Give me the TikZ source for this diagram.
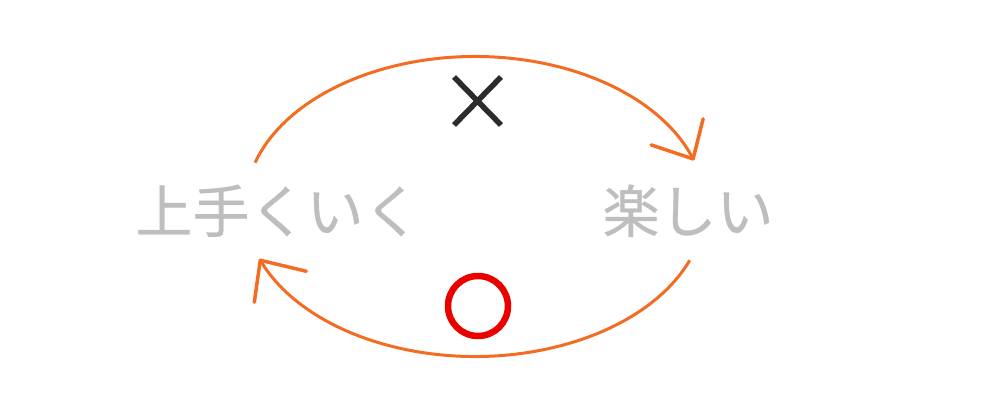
\documentclass[tikz,border=0pt]{standalone}
\usepackage{fontspec}
\newfontfamily\cjk[FakeBold=0.5]{Noto Sans CJK JP}
\definecolor{arcorange}{RGB}{243,108,33}
\definecolor{txtgray}{RGB}{190,190,190}
\definecolor{markdark}{RGB}{43,43,43}
\definecolor{markred}{RGB}{235,0,0}
\begin{document}
\begin{tikzpicture}[x=1pt,y=1pt,
  arcline/.style={draw=arcorange,line width=3pt},
  barb/.style={draw=arcorange,line width=3.5pt,line cap=round},
  word/.style={font=\cjk\fontsize{57}{61}\selectfont,text=txtgray,inner sep=0pt,anchor=base}]
\useasboundingbox (0,0) rectangle (1000,400);
% words
\node[word] (umaku) at (278,167.5) {上手くいく};
\node[word] (tanoshii) at (688,167.5) {楽しい};
% top arc
\coordinate (tstart) at ({475+230*cos(163)},{193.5+150*sin(163)});
\draw[arcline] (tstart) arc[start angle=163,end angle=18.5,x radius=230,y radius=150] coordinate (ttip);
\draw[barb] (ttip) -- ++(10,40);
\draw[barb] (ttip) -- ++(-42,14);
% bottom arc
\coordinate (bstart) at ({475+230*cos(-21)},{193.5+150*sin(-21)});
\draw[arcline] (bstart) arc[start angle=-21,end angle=-159,x radius=230,y radius=150] coordinate (btip);
\draw[barb] (btip) -- ++(-6,-42);
\draw[barb] (btip) -- ++(46,-11);
% cross mark
\coordinate (c1) at (454,323);
\coordinate (c2) at (501,275);
\coordinate (c3) at (454,275);
\coordinate (c4) at (501,323);
\draw[markdark,line width=5.5pt] (c1) -- (c2);
\draw[markdark,line width=5.5pt] (c3) -- (c4);
% circle mark
\coordinate (ocent) at (478,94);
\draw[markred,line width=6.5pt] (ocent) circle[radius=30];
\end{tikzpicture}
\end{document}
